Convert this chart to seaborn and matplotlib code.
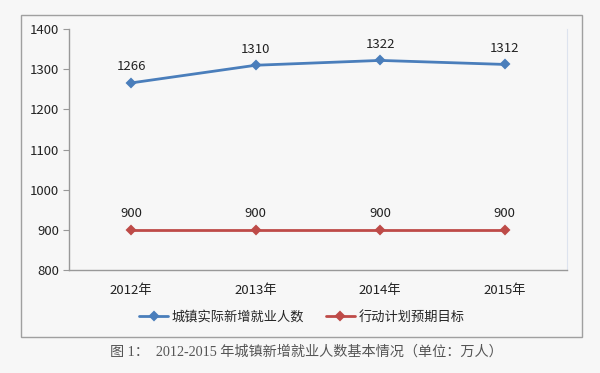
import numpy as np
import pandas as pd
import matplotlib
matplotlib.use('Agg')
import matplotlib.pyplot as plt
import seaborn as sns
from matplotlib.patches import Rectangle

# data
years = ['2012年', '2013年', '2014年', '2015年']
actual = [1266, 1310, 1322, 1312]
target = [900, 900, 900, 900]
series_names = ['城镇实际新增就业人数', '行动计划预期目标']
colors = ['#4a7ebb', '#be4b48']

df = pd.DataFrame({
    'year': years * 2,
    'value': actual + target,
    'series': [series_names[0]] * 4 + [series_names[1]] * 4,
})

sns.set_style('white')
plt.rcParams['font.family'] = ['Noto Sans CJK SC', 'DejaVu Sans']
bg = '#f7f7f7'
fs = 9.5

fig = plt.figure(figsize=(6, 3.73), dpi=100, facecolor=bg)
ax = fig.add_axes([0.115, 0.276, 0.83, 0.646])
ax.set_facecolor(bg)

sns.pointplot(data=df, x='year', y='value', hue='series', palette=colors,
              markers='D', linestyles='-', ax=ax, markersize=4,
              linewidth=2.0, errorbar=None)

# data labels
for vals in [actual, target]:
    for i, v in enumerate(vals):
        ax.annotate(str(v), (i, v), xytext=(0, 7), textcoords='offset points',
                    ha='center', va='bottom', fontsize=fs, color='#222222')

ax.set_xlim(-0.5, 3.5)
ax.set_ylim(800, 1400)
ax.set_yticks(range(800, 1401, 100))
ax.set_xlabel('')
ax.set_ylabel('')
ax.tick_params(axis='x', length=0, labelsize=fs, pad=10, colors='#222222')
ax.set_xticks(np.arange(-0.5, 4, 1), minor=True)
ax.tick_params(axis='x', which='minor', length=4, color='#999999', direction='out')
ax.tick_params(axis='y', length=4, labelsize=fs, color='#999999',
               labelcolor='#222222', direction='out', left=True, pad=3)
for s in ['left', 'bottom']:
    ax.spines[s].set_color('#999999')
    ax.spines[s].set_linewidth(1)
ax.spines['top'].set_visible(False)
ax.spines['right'].set_color('#dde3ee')
ax.spines['right'].set_linewidth(0.8)

handles, labels = ax.get_legend_handles_labels()
ax.legend_.remove()
fig.legend(handles, labels, loc='center', bbox_to_anchor=(0.503, 0.15), ncol=2,
           frameon=False, fontsize=fs, handlelength=2.2, columnspacing=1.6,
           handletextpad=0.3)

# outer chart border
fig.patches.append(Rectangle((0.035, 0.0965), 0.935, 0.8635, transform=fig.transFigure,
                             fill=False, edgecolor='#a0a0a0', linewidth=1))

fig.text(0.51, 0.057, '图 1：  2012-2015 年城镇新增就业人数基本情况（单位：万人）',
         ha='center', va='center', fontsize=10.2, color='#555555',
         family=['Liberation Serif', 'Noto Sans CJK SC'])

fig.savefig('out.png', dpi=100, facecolor=bg)
